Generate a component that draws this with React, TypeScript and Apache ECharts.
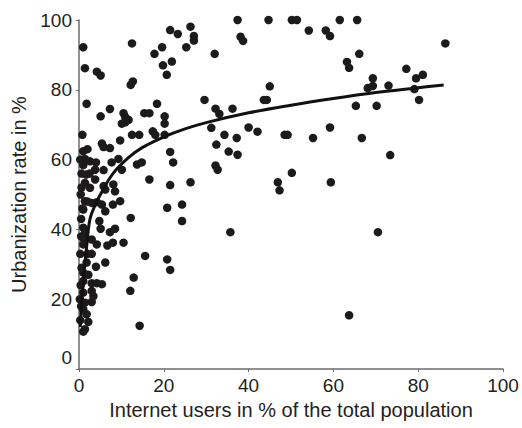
import React, { useEffect, useRef } from "react";
import * as echarts from "echarts";

const internetUsers: number[] = [
  37.4, 44.7, 50.2, 51.4, 61.5, 65.6, 54.2, 58.2, 59.2, 38.1, 38.7, 32, 63.2, 63.7, 45, 29.6, 43.6, 44.3, 32.2, 33.1,
  36.2, 31.2, 34.3, 37.2, 40, 42.1, 48.5, 49.2, 55.2, 59.2, 32.4, 35.3, 37.4, 32.2, 32.7, 50.2, 46.9, 47.3, 59.4, 35.7,
  63.7, 86.4, 66.1, 69.3, 68.1, 69.3, 73, 77.2, 79.5, 81.1, 79.1, 80.2, 65.3, 70.2, 66.7, 73.4, 70.5,
  1.0, 12.5, 21.5, 23.3, 26.3, 27.1, 27.1, 25.3, 19.6, 17.8, 21.9, 19.8, 20.7, 1.4, 4.2, 5.1, 12.2, 12.7, 1.8, 7.3,
  5.1, 10.5, 10.9, 11.7, 10.1, 10.9, 15.4, 16.6, 18.4, 20.2, 20.2, 17.4, 18, 12.5, 14.2, 20.2, 0.8, 5.4, 5.8, 7.3,
  9.7, 21.5, 22.2, 13.7, 14.8, 16.6, 21.5, 26.3, 1.0, 1.4, 1.0, 2.6, 4.0, 3.8, 5.8, 7.7, 9.3, 10.1, 1.7, 3.8, 1.4, 8.1,
  0.6, 2.6, 5.8, 6.2, 8.5, 1.4, 3, 4.2, 5.4, 1, 8, 9.7, 6.2, 20.8, 24.3, 24.3, 12.2, 4.8, 5.1, 1, 1.4, 1, 7.3, 8.5,
  3, 4.2, 1, 6.7, 8, 10.5, 15.6, 20.8, 21.5, 1.8, 4, 6.2, 1, 1, 3, 4.2, 5.4, 12.9, 12.1, 3, 3.4, 1, 1.4, 1, 3, 1.8,
  2.2, 1, 1.4, 14.3,
  0.3, 0.5, 0.4, 0.6, 0.3, 0.5, 0.4, 0.6, 0.3, 0.5, 2, 2.2, 0.8, 2.0, 2.5, 2.0, 3, 0.2,
];

const urbanization: number[] = [
  100, 100, 100, 100, 100, 100, 97, 97, 95.4, 95.2, 94, 90.3, 88, 86.3, 81, 77.1, 77.1, 77.1, 74.6, 73.1,
  74.6, 69.1, 67.1, 66.2, 69.2, 68, 67.1, 67.1, 66.2, 69.2, 64.3, 62.3, 61.4, 58.3, 57.1, 56.2, 53.5, 51.2, 53.5, 39.2,
  15.4, 93.3, 90.3, 83.3, 80.5, 81.1, 81.2, 86, 83.3, 84.3, 80.2, 77.1, 75.4, 75.4, 66.2, 61.3, 39.2,
  92.2, 93.3, 97.1, 96, 98.1, 95.4, 94.1, 92.2, 92.2, 90.3, 88.1, 87, 84.3, 86.2, 85.2, 84.1, 81.4, 82.4, 76, 74.5,
  72.4, 73.3, 72.2, 71.4, 70.3, 70.7, 73.3, 73.3, 76, 72.4, 70.3, 68.1, 67.1, 67.1, 67.1, 67.1, 67.1, 64.6, 63.6, 63.3,
  65.5, 62.2, 59.2, 58.6, 59.2, 54.3, 52.7, 53.5, 62.4, 60.2, 58.4, 59.5, 59.2, 57.1, 57, 59.2, 60.2, 57.1, 55.7, 54.3, 53.3, 52.9,
  52, 51.9, 52.4, 51.4, 50.9, 48.1, 47.6, 47.8, 47.1, 45.7, 47.1, 48.1, 45.2, 46.2, 47.1, 42.4, 43.3, 42.4, 40.2, 40.5, 39, 37.6, 39.2, 40.2,
  37.1, 35.7, 35.7, 35.4, 36.2, 36.2, 32.4, 31.4, 28.4, 30.5, 29.3, 30.5, 27.6, 25.2, 24.6, 24.6, 24.3, 26.2, 22.4, 22.4, 20.9, 21.9, 19, 17.1, 19.2, 15.7,
  13.5, 10.7, 11.4, 12.4,
  14, 18, 24, 29, 33, 43, 50, 56, 60, 38, 33, 27, 46, 48, 56, 63, 33, 20,
];

const fitX: number[] = [0.3, 0.8, 1.3, 1.8, 2.6, 4, 5.5, 8, 11.6, 15, 20, 25, 30, 40, 50, 60, 70, 80, 86];
const fitY: number[] = [12, 22, 29, 35, 43, 47.5, 51, 56, 60.5, 63.5, 66.5, 68.8, 70.6, 73.4, 75.6, 77.5, 79.2, 80.6, 81.4];

const xTitle = "Internet users in % of the total population";
const yTitle = "Urbanization rate in %";

export default function App() {
  const ref = useRef<HTMLDivElement>(null);
  useEffect(() => {
    if (!ref.current) return;
    const chart = echarts.init(ref.current, undefined, { renderer: "svg" });
    const pts = internetUsers.map((x, i) => [x, urbanization[i]]);
    const fit = fitX.map((x, i) => [x, fitY[i]]);
    const font = "'Liberation Sans', Arial, Helvetica, sans-serif";
    const axisColor = "#6b6b6b";
    const textColor = "#231f20";
    chart.setOption({
      animation: false,
      backgroundColor: "#ffffff",
      grid: { left: 79, right: 19, top: 20, bottom: 59, outerBoundsMode: "none" },
      xAxis: {
        type: "value",
        min: 0,
        max: 100,
        interval: 20,
        splitLine: { show: false },
        axisLine: { show: true, lineStyle: { color: axisColor, width: 1.5 } },
        axisTick: { show: true, length: 3, lineStyle: { color: axisColor } },
        axisLabel: { color: textColor, fontSize: 19, fontFamily: font, margin: 7 },
        name: xTitle,
        nameLocation: "middle",
        nameGap: 31,
        nameTextStyle: { color: textColor, fontSize: 20, fontFamily: font },
      },
      yAxis: {
        type: "value",
        min: 0,
        max: 100,
        interval: 20,
        splitLine: { show: false },
        axisLine: { show: true, lineStyle: { color: axisColor, width: 1.5 } },
        axisTick: { show: true, length: 3, lineStyle: { color: axisColor } },
        axisLabel: {
          color: textColor,
          fontSize: 19,
          fontFamily: font,
          margin: 7,
          formatter: (v: number) => (v === 0 ? "{z|0}" : String(v)),
          rich: { z: { color: textColor, fontSize: 19, fontFamily: font, padding: [0, 0, 24, 0] } },
        },
        name: yTitle,
        nameLocation: "middle",
        nameGap: 46,
        nameTextStyle: { color: textColor, fontSize: 20, fontFamily: font },
      },
      series: [
        {
          type: "scatter",
          data: pts,
          symbolSize: 8.5,
          itemStyle: { color: "#1c1a1b", opacity: 1 },
          z: 2,
        },
        {
          type: "line",
          data: fit,
          smooth: 0.4,
          showSymbol: false,
          symbol: "none",
          lineStyle: { color: "#111111", width: 3 },
          z: 3,
        },
      ],
    });
    return () => chart.dispose();
  }, []);
  return <div ref={ref} style={{ position: "fixed", left: 0, top: 0, width: 522, height: 428 }} />;
}
